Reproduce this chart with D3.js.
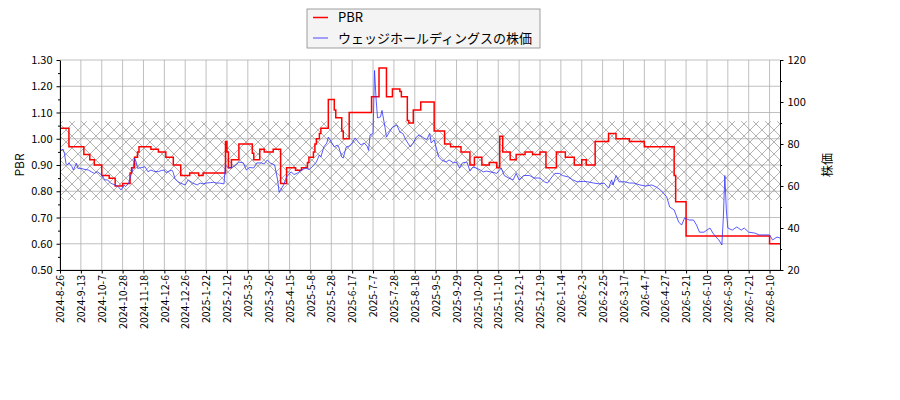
<!DOCTYPE html>
<html>
<head>
<meta charset="utf-8">
<script src="https://cdn.jsdelivr.net/npm/d3@7"></script>
<style>
  body { margin: 0; background: #fff; }
  svg text { font-family: "Noto Sans CJK JP", "DejaVu Sans", sans-serif; }
</style>
</head>
<body>
<div id="chart"></div>
<script>
// x軸のラベル (14営業日ごと)
const tickLabels = [
  "2024-8-26", "2024-9-13", "2024-10-7", "2024-10-28", "2024-11-18", "2024-12-6",
  "2024-12-26", "2025-1-22", "2025-2-12", "2025-3-5", "2025-3-26", "2025-4-15",
  "2025-5-8", "2025-5-28", "2025-6-17", "2025-7-7", "2025-7-28", "2025-8-18",
  "2025-9-5", "2025-9-29", "2025-10-20", "2025-11-10", "2025-12-1", "2025-12-19",
  "2026-1-14", "2026-2-3", "2026-2-25", "2026-3-17", "2026-4-7", "2026-4-27",
  "2026-5-21", "2026-6-10", "2026-6-30", "2026-7-21", "2026-8-10"
];
const tickStep = 14;
const lastDay = 483;

// PBR (階段状) : 変化した営業日と値
const pbrDay = [0, 6, 16, 20, 23, 28, 33, 37, 42, 47, 48, 50, 52, 53, 61, 66, 71, 76, 81, 87,
  93, 96, 111, 112, 113, 115, 120, 129, 130, 134, 137, 143, 148, 152, 158, 162, 166, 167, 170, 171,
  172, 174, 175, 180, 184, 185, 189, 190, 194, 209, 214, 219, 223, 228, 229, 233, 234, 237, 242, 251,
  258, 262, 269, 275, 278, 283, 288, 293, 295, 297, 302, 306, 312, 317, 322, 326, 333, 339, 345, 350,
  353, 359, 368, 373, 382, 392, 412, 413, 420, 476];
const pbrValue = [1.04, 0.97, 0.94, 0.92, 0.90, 0.86, 0.85, 0.82, 0.83, 0.87, 0.89, 0.93, 0.95, 0.97, 0.96, 0.95, 0.93, 0.90, 0.86, 0.87,
  0.86, 0.87, 0.99, 0.95, 0.89, 0.92, 0.98, 0.945, 0.92, 0.96, 0.95, 0.96, 0.83, 0.89, 0.88, 0.89, 0.91, 0.93, 0.95, 0.98,
  1.00, 1.02, 1.04, 1.15, 1.11, 1.08, 1.03, 1.00, 1.10, 1.16, 1.27, 1.16, 1.19, 1.18, 1.16, 1.07, 1.06, 1.11, 1.14, 1.03,
  0.98, 0.97, 0.95, 0.90, 0.93, 0.90, 0.91, 0.89, 1.01, 0.95, 0.92, 0.94, 0.95, 0.94, 0.95, 0.89, 0.95, 0.93, 0.90, 0.92,
  0.90, 0.99, 1.02, 1.00, 0.99, 0.97, 0.86, 0.76, 0.63, 0.60];

// 株価 : 営業日と終値
const priceDay = [0, 2, 3, 4, 5, 6, 8, 9, 11, 12, 14, 16, 19, 21, 23, 25, 28, 30, 32, 34,
  37, 39, 41, 43, 44, 46, 48, 49, 50, 51, 52, 55, 57, 59, 61, 63, 66, 68, 70, 71,
  73, 75, 76, 77, 79, 81, 84, 86, 89, 92, 94, 96, 98, 101, 103, 105, 107, 110, 111, 113,
  116, 118, 120, 123, 125, 127, 130, 132, 135, 137, 139, 141, 144, 146, 147, 150, 152, 155, 157, 159,
  162, 165, 167, 169, 172, 174, 175, 177, 179, 180, 182, 184, 186, 187, 189, 190, 192, 194, 196, 198,
  200, 202, 204, 206, 207, 208, 210, 211, 212, 213, 215, 216, 218, 219, 221, 223, 226, 228, 230, 232,
  235, 237, 239, 241, 244, 246, 248, 249, 251, 254, 256, 259, 261, 264, 266, 268, 270, 273, 275, 277,
  279, 282, 284, 286, 289, 293, 296, 298, 301, 304, 306, 308, 311, 315, 318, 322, 325, 327, 330, 332,
  335, 337, 341, 344, 347, 351, 354, 358, 362, 365, 368, 370, 371, 373, 375, 379, 382, 385, 389, 393,
  397, 400, 403, 407, 409, 412, 415, 417, 419, 422, 425, 427, 429, 432, 436, 438, 440, 442, 444, 445,
  446, 447, 448, 451, 454, 457, 459, 462, 466, 469, 476, 478, 481, 483];
const price = [76.3, 77.6, 75.5, 70.8, 70, 71, 69.2, 67.6, 70.8, 68.4, 68.4, 68, 67.6, 66.8, 66, 66.8, 65.2, 62.9, 62.9, 61.3,
  60.5, 59.7, 58.1, 60.5, 59.7, 61.3, 66, 68.4, 73.2, 71.6, 68.4, 68.8, 69.2, 66.8, 67.6, 67, 66.8, 67.4, 67.6, 66.4,
  67, 67.6, 66.4, 63.7, 62.1, 61.3, 60.5, 62.9, 61.4, 60.5, 61.4, 61, 61.4, 61.6, 61.8, 61.4, 61.4, 61.0, 70, 68.6,
  69, 70, 71.4, 71, 67.6, 68.8, 68.6, 71, 71, 70.5, 72.4, 71, 70, 62.9, 57, 60.5, 64.3, 66.7, 65.5, 66,
  67.6, 68.6, 67.8, 69, 71.4, 74.8, 73.8, 78.6, 80.5, 83.3, 81, 78.6, 79.5, 78.6, 73.8, 73.3, 78.6, 79, 80.5, 82.9,
  81, 79.5, 80.5, 79, 77, 84.3, 85, 115, 102, 92.4, 92.9, 96, 88, 83.3, 85.7, 88, 89, 85.7, 85, 82,
  78.6, 80.5, 83.3, 84.3, 82.9, 82, 85, 80.5, 82, 73.8, 72.4, 71.4, 72.4, 71, 71.4, 68.6, 71, 71.4, 67.1, 69,
  68.6, 67.6, 66.7, 67.1, 66.7, 66, 68.6, 65, 63.8, 62.9, 66, 62.9, 65, 65, 63.8, 63.8, 62, 61.4, 64.3, 66,
  66, 65, 64.3, 62.9, 62, 62.2, 62, 61.4, 61, 61.4, 59, 62.9, 60.5, 65, 62, 62, 61.4, 61.4, 60.5, 60,
  60.5, 59.5, 58, 54.8, 50, 48.6, 42.9, 41.4, 44.8, 43.8, 43.8, 41.4, 38, 38, 40, 37.6, 35.7, 34.3, 31.9, 45.2,
  65, 48.6, 40, 39, 40.5, 39, 40, 38, 37.6, 36.7, 36.7, 34.3, 35.7, 35.2];

// 網掛けの帯 (PBRの範囲)
const bandRange = [0.767, 1.067];

const width = 900, height = 400;
const plotLeft = 60, plotRight = 780, plotTop = 60, plotBottom = 270;

const svg = d3.select("#chart").append("svg")
  .attr("width", width)
  .attr("height", height);

const x = d3.scaleLinear().domain([0, lastDay]).range([plotLeft, plotRight]);
const yL = d3.scaleLinear().domain([0.5, 1.3]).range([plotBottom, plotTop]);
const yR = d3.scaleLinear().domain([20, 120]).range([plotBottom, plotTop]);

const tickDays = tickLabels.map((d, i) => i * tickStep);
const pbrTicks = d3.range(0, 9).map(i => 0.5 + i * 0.1);
const pbrMinor = d3.range(0, 8).map(i => 0.55 + i * 0.1);
const priceTicks = [20, 40, 60, 80, 100, 120];
const priceMinor = [30, 50, 70, 90, 110];

// 網掛けパターン
const tile = 12;
svg.append("defs").append("pattern")
  .attr("id", "hatch")
  .attr("patternUnits", "userSpaceOnUse")
  .attr("patternTransform", "translate(0,4)")
  .attr("width", tile)
  .attr("height", tile)
  .append("path")
  .attr("d", `M0,0L${tile},${tile}M0,${tile}L${tile},0`)
  .attr("stroke", "#999")
  .attr("stroke-width", 0.75)
  .attr("fill", "none");

// グリッド
const grid = svg.append("g");
grid.selectAll(".hg").data(pbrTicks).enter().append("line")
  .attr("x1", plotLeft).attr("x2", plotRight)
  .attr("y1", d => yL(d)).attr("y2", d => yL(d))
  .attr("stroke", "#b0b0b0").attr("stroke-width", 0.8);
grid.selectAll(".vg").data(tickDays).enter().append("line")
  .attr("x1", d => x(d)).attr("x2", d => x(d))
  .attr("y1", plotTop).attr("y2", plotBottom)
  .attr("stroke", "#b0b0b0").attr("stroke-width", 0.8);

// 帯
svg.append("rect")
  .attr("x", plotLeft)
  .attr("width", plotRight - plotLeft)
  .attr("y", yL(bandRange[1]))
  .attr("height", yL(bandRange[0]) - yL(bandRange[1]))
  .attr("fill", "url(#hatch)");

// PBR 線
const pbrData = pbrDay.map((d, i) => [d, pbrValue[i]]);
pbrData.push([lastDay, pbrValue[pbrValue.length - 1]]);
svg.append("path")
  .datum(pbrData)
  .attr("fill", "none")
  .attr("stroke", "red")
  .attr("stroke-width", 1.5)
  .attr("d", d3.line().x(d => x(d[0])).y(d => yL(d[1])).curve(d3.curveStepAfter));

// 株価 線
const priceData = priceDay.map((d, i) => [d, price[i]]);
svg.append("path")
  .datum(priceData)
  .attr("fill", "none")
  .attr("stroke", "#3333ff")
  .attr("stroke-opacity", 0.9)
  .attr("stroke-width", 0.9)
  .attr("d", d3.line().x(d => x(d[0])).y(d => yR(d[1])));

// 軸
const fontSize = "11px";
const xAxis = svg.append("g")
  .attr("transform", `translate(0,${plotBottom})`)
  .call(d3.axisBottom(x).tickValues(tickDays).tickFormat((d, i) => tickLabels[i])
    .tickSizeInner(3.5).tickSizeOuter(0));
xAxis.selectAll("text")
  .attr("transform", "rotate(-90)")
  .attr("text-anchor", "end")
  .attr("x", -5)
  .attr("y", 0)
  .attr("dy", "0.35em")
  .style("font-size", "10.5px");

const yAxisL = svg.append("g")
  .attr("transform", `translate(${plotLeft},0)`)
  .call(d3.axisLeft(yL).tickValues(pbrTicks).tickFormat(d3.format(".2f"))
    .tickSizeInner(3.5).tickSizeOuter(0).tickPadding(4));
yAxisL.selectAll("text").style("font-size", fontSize);
svg.append("g")
  .attr("transform", `translate(${plotLeft},0)`)
  .call(d3.axisLeft(yL).tickValues(pbrMinor).tickFormat("").tickSizeInner(2).tickSizeOuter(0))
  .select(".domain").remove();

const yAxisR = svg.append("g")
  .attr("transform", `translate(${plotRight},0)`)
  .call(d3.axisRight(yR).tickValues(priceTicks).tickSizeInner(3.5).tickSizeOuter(0).tickPadding(4));
yAxisR.selectAll("text").style("font-size", fontSize);
svg.append("g")
  .attr("transform", `translate(${plotRight},0)`)
  .call(d3.axisRight(yR).tickValues(priceMinor).tickFormat("").tickSizeInner(2).tickSizeOuter(0))
  .select(".domain").remove();

svg.selectAll(".domain").attr("stroke", "#000");
svg.selectAll(".tick line").attr("stroke", "#000");
svg.selectAll(".tick text").attr("fill", "#000");

// 軸ラベル
svg.append("text")
  .attr("transform", `translate(24,${(plotTop + plotBottom) / 2}) rotate(-90)`)
  .attr("text-anchor", "middle")
  .style("font-size", "12px")
  .text("PBR");
svg.append("text")
  .attr("transform", `translate(832,${(plotTop + plotBottom) / 2}) rotate(-90)`)
  .attr("text-anchor", "middle")
  .style("font-size", "12px")
  .text("株価");

// 凡例
const legend = svg.append("g").attr("transform", "translate(307,9)");
legend.append("rect")
  .attr("width", 233).attr("height", 39)
  .attr("fill", "#f4f4f4").attr("stroke", "#888").attr("stroke-width", 0.8);
const items = [["PBR", "red", 1.5], ["ウェッジホールディングスの株価", "#6666ff", 1.2]];
items.forEach(([label, color, w], i) => {
  const yy = 8.5 + i * 20.5;
  legend.append("line")
    .attr("x1", 6).attr("x2", 21).attr("y1", yy).attr("y2", yy)
    .attr("stroke", color).attr("stroke-width", w);
  legend.append("text")
    .attr("x", 31).attr("y", yy).attr("dy", "0.36em")
    .style("font-size", "13px")
    .text(label);
});
</script>
</body>
</html>
